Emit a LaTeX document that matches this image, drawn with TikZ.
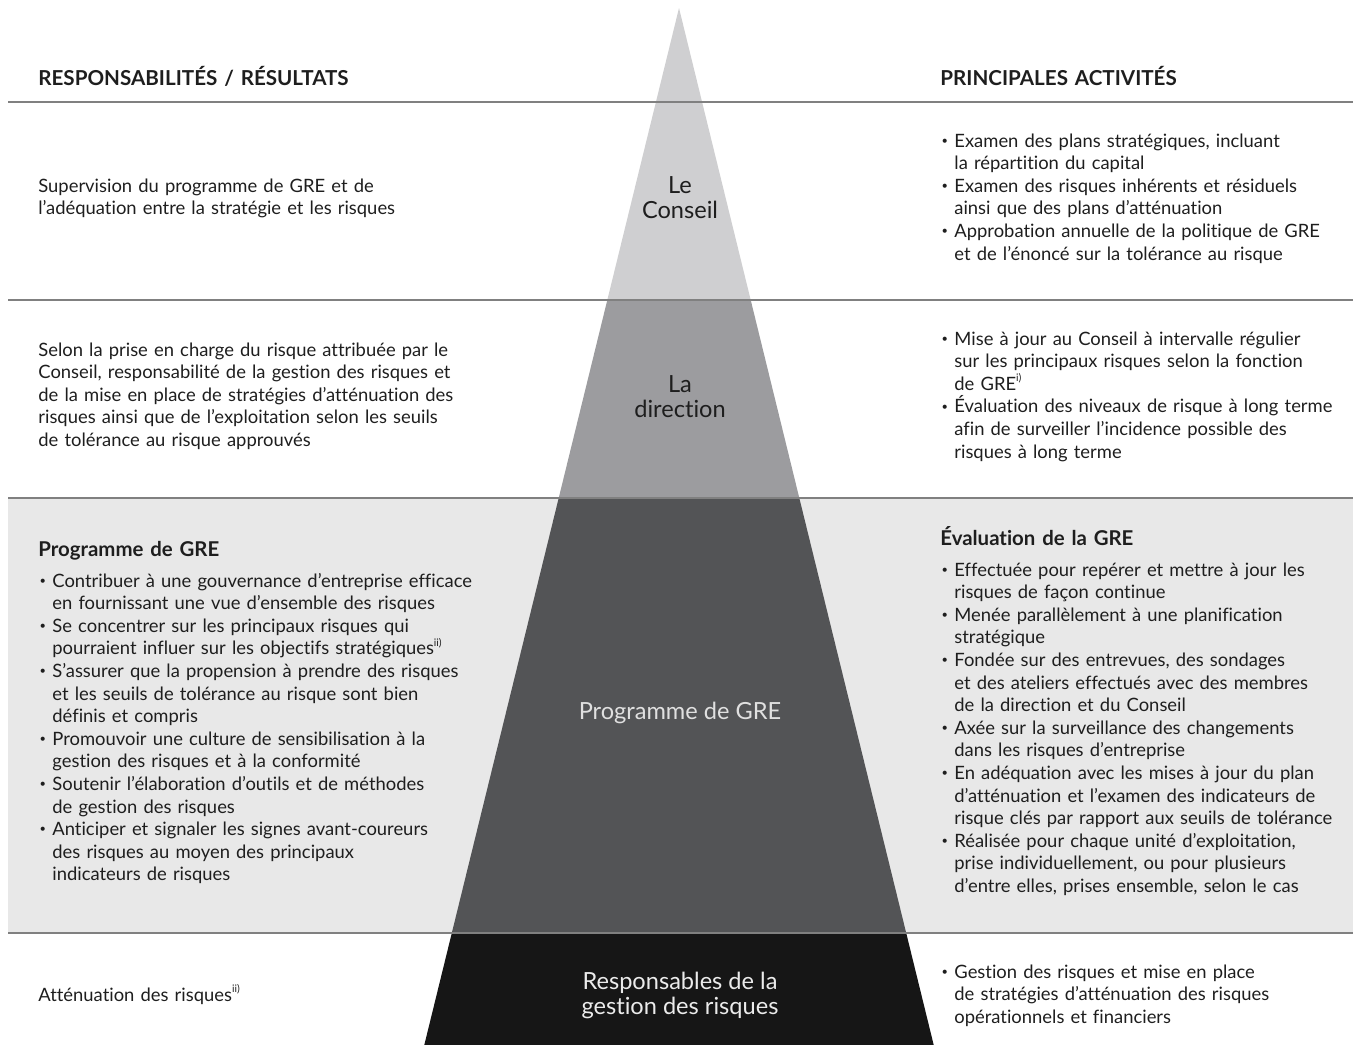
\documentclass[tikz,border=0pt]{standalone}
\usepackage{fontspec}
\setmainfont{Lato}[Ligatures=NoCommon]
\usepackage{tikz}
\usetikzlibrary{positioning}

\definecolor{niveau1}{HTML}{CFCFD1}
\definecolor{niveau2}{HTML}{9C9C9F}
\definecolor{niveau3}{HTML}{535456}
\definecolor{niveau4}{HTML}{161616}
\definecolor{bande}{HTML}{E8E8E8}
\definecolor{trait}{HTML}{808080}
\definecolor{encre}{HTML}{1E1E1E}

\newlength{\pucew}
\setlength{\pucew}{7pt}
\newcommand{\pucesym}{\hspace{0.6pt}\raisebox{0.3ex}{\scalebox{0.6}{\textbullet}}}
\newcommand{\puce}[1]{\hangindent=\pucew\hangafter=1\makebox[\pucew][l]{\pucesym}{\let\\\newline #1}\par}
\newcommand{\appel}[1]{\raisebox{0.9ex}{\fontsize{5.2}{5.5}\selectfont #1}}

\begin{document}
\begin{tikzpicture}[x=0.5pt,y=-0.5pt,
  texte/.style={anchor=base west,inner sep=0pt,text width=225pt,align=left,text=encre,font=\fontsize{9.2}{11.3}\selectfont},
  texted/.style={texte,text width=205pt},
  titre/.style={texte,font=\fontsize{10.2}{11.3}\selectfont\bfseries},
  entete/.style={texte,font=\fontsize{10.3}{11.3}\selectfont\bfseries},
  niveau/.style={align=center,inner sep=0pt,font=\fontsize{11.8}{12.5}\selectfont},
  separation/.style={draw=trait,line width=0.7pt}]
  \useasboundingbox (0,0) rectangle (1353,1044);
  \clip (0,0) rectangle (1353,1044);

  % bande du programme de GRE
  \fill[bande] (8,498) rectangle (1353,933);

  % pyramide
  \coordinate (sommet) at (679,8);
  \fill[niveau1] (sommet) -- (750.7,300) -- (607.3,300) -- cycle;
  \fill[niveau2] (607.3,300) -- (750.7,300) -- (799.3,498) -- (558.7,498) -- cycle;
  \fill[niveau3] (558.7,498) -- (799.3,498) -- (906.2,933) -- (451.8,933) -- cycle;
  \fill[niveau4] (451.8,933) -- (906.2,933) -- (937.4,1060) -- (420.6,1060) -- cycle;

  % separations
  \foreach \y in {102,300,498,933}
    \draw[separation] (8,\y) -- (1353,\y);

  % en-tetes
  \node[entete] (ent_g) at (38,85) {RESPONSABILITÉS / RÉSULTATS};
  \node[entete] (ent_d) at (940,85) {PRINCIPALES ACTIVITÉS};

  % niveaux de la pyramide
  \node[niveau,text=encre] (n_1) at (680,197.5) {Le\\Conseil};
  \node[niveau,text=encre] (n_2) at (680,396.5) {La\\direction};
  \node[niveau,text=white!88!black] (n_3) at (680,713) {Programme de GRE};
  \node[niveau,text=white!92!black] (n_4) at (680,995.5) {Responsables de la\\gestion des risques};

  % responsabilites / resultats
  \node[texte] (g_1) at (38,192) {Supervision du programme de GRE et de\\l’adéquation entre la stratégie et les risques};
  \node[texte] (g_2) at (38,356) {Selon la prise en charge du risque attribuée par le\\Conseil, responsabilité de la gestion des risques et\\de la mise en place de stratégies d’atténuation des\\risques ainsi que de l’exploitation selon les seuils\\de tolérance au risque approuvés};
  \node[titre] (g_3) at (38,556) {Programme de GRE};
  \node[texte] (g_3b) at ([yshift=-15.5pt]g_3.base west) {%
    \puce{Contribuer à une gouvernance d’entreprise efficace\\en fournissant une vue d’ensemble des risques}%
    \puce{Se concentrer sur les principaux risques qui\\pourraient influer sur les objectifs stratégiques\appel{ii)}}%
    \puce{S’assurer que la propension à prendre des risques\\et les seuils de tolérance au risque sont bien\\définis et compris}%
    \puce{Promouvoir une culture de sensibilisation à la\\gestion des risques et à la conformité}%
    \puce{Soutenir l’élaboration d’outils et de méthodes\\de gestion des risques}%
    \puce{Anticiper et signaler les signes avant-coureurs\\des risques au moyen des principaux\\indicateurs de risques}};
  \node[texte] (g_4) at (38,1001) {Atténuation des risques\appel{ii)}};

  % principales activites
  \node[texted] (d_1) at (940,147) {%
    \puce{Examen des plans stratégiques, incluant\\la répartition du capital}%
    \puce{Examen des risques inhérents et résiduels\\ainsi que des plans d’atténuation}%
    \puce{Approbation annuelle de la politique de GRE\\et de l’énoncé sur la tolérance au risque}};
  \node[texted] (d_2) at (940,345) {%
    \puce{Mise à jour au Conseil à intervalle régulier\\sur les principaux risques selon la fonction\\de GRE\appel{i)}}%
    \puce{Évaluation des niveaux de risque à long terme\\afin de surveiller l’incidence possible des\\risques à long terme}};
  \node[titre] (d_3) at (940,545) {Évaluation de la GRE};
  \node[texted] (d_3b) at ([yshift=-15.5pt]d_3.base west) {%
    \puce{Effectuée pour repérer et mettre à jour les\\risques de façon continue}%
    \puce{Menée parallèlement à une planification\\stratégique}%
    \puce{Fondée sur des entrevues, des sondages\\et des ateliers effectués avec des membres\\de la direction et du Conseil}%
    \puce{Axée sur la surveillance des changements\\dans les risques d’entreprise}%
    \puce{En adéquation avec les mises à jour du plan\\d’atténuation et l’examen des indicateurs de\\risque clés par rapport aux seuils de tolérance}%
    \puce{Réalisée pour chaque unité d’exploitation,\\prise individuellement, ou pour plusieurs\\d’entre elles, prises ensemble, selon le cas}};
  \node[texted] (d_4) at (940,978) {%
    \puce{Gestion des risques et mise en place\\de stratégies d’atténuation des risques\\opérationnels et financiers}};
\end{tikzpicture}
\end{document}
